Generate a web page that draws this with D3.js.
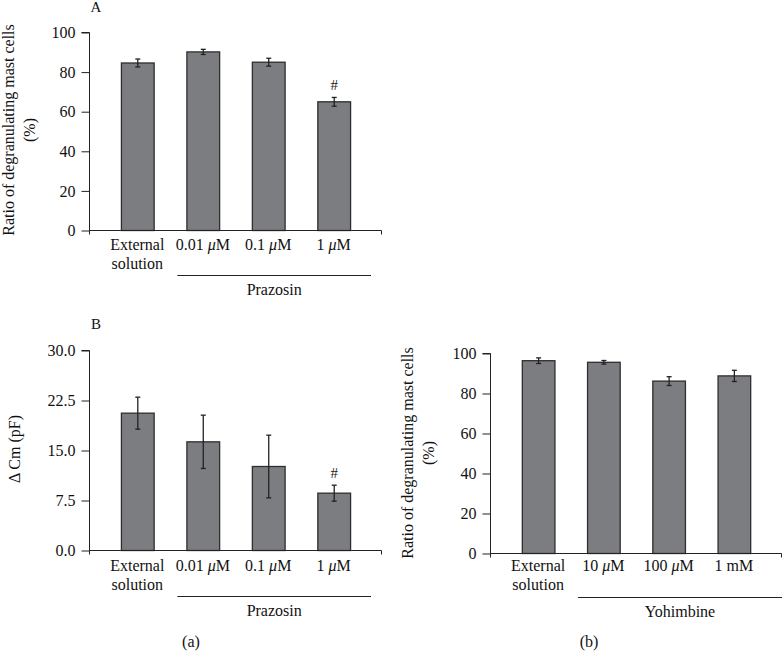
<!DOCTYPE html>
<html><head><meta charset="utf-8">
<script src="https://cdn.jsdelivr.net/npm/d3@7/dist/d3.min.js"></script>
<style>
html,body{margin:0;padding:0;background:#fff;}
svg{display:block;font-family:"Liberation Serif","DejaVu Serif",serif;}
</style></head>
<body>
<svg id="c" width="782" height="651"></svg>
<script>
// ---- data ----
const categoriesPrazosin = ["External|solution", "0.01 μM", "0.1 μM", "1 μM"];
const categoriesYohimbine = ["External|solution", "10 μM", "100 μM", "1 mM"];
const ratioPrazosin = [84.6, 90.2, 85.0, 65.0];
const ratioPrazosinErr = [2.0, 1.3, 2.0, 2.2];
const cmPrazosin = [20.6, 16.3, 12.6, 8.6];
const cmPrazosinErr = [2.4, 4.0, 4.7, 1.2];
const ratioYohimbine = [96.4, 95.6, 86.2, 88.8];
const ratioYohimbineErr = [1.4, 0.9, 2.2, 2.8];
const sigPrazosin = ["", "", "", "#"];
const sigYohimbine = ["", "", "", ""];
const ticksRatio = [0, 20, 40, 60, 80, 100];
const ticksCm = [0, 7.5, 15, 22.5, 30];

const svg = d3.select("#c");
const FS = 16;
const barFill = "#7c7d81", barStroke = "#2e2e2e", axisCol = "#222";

function addMu(sel, str) {
  const parts = str.split("μ");
  parts.forEach((p, i) => {
    if (i > 0) sel.append("tspan").attr("font-style", "italic").text("μ");
    if (p) sel.append("tspan").text(p);
  });
}

function panel(o) {
  const g = svg.append("g");
  const x = d3.scaleBand().domain(o.cats).range([o.ax0, o.ax1]).paddingInner(0.5).paddingOuter(0.48);
  const y = d3.scaleLinear().domain([0, o.ymax]).range([o.yb, o.yt]);

  // y axis
  const yAxis = d3.axisLeft(y).tickValues(o.ticks).tickFormat(o.fmt).tickSize(8).tickPadding(6);
  const ya = g.append("g").attr("transform", `translate(${o.ax0},0)`).call(yAxis);
  ya.select(".domain").attr("stroke", axisCol).attr("d", `M-8,${o.yt}H0V${o.yb + 4}`);
  ya.selectAll(".tick line").attr("stroke", axisCol);
  ya.selectAll(".tick text").attr("font-size", FS).attr("font-family", "Liberation Serif").attr("fill", "#111");

  // bars
  g.selectAll("rect.bar").data(o.vals).join("rect")
    .attr("x", (d, i) => x(o.cats[i]) + 0.5)
    .attr("y", d => y(d))
    .attr("width", x.bandwidth())
    .attr("height", d => y(0) - y(d))
    .attr("fill", barFill).attr("stroke", barStroke).attr("stroke-width", 1.3);

  // error bars
  o.vals.forEach((v, i) => {
    const cx = x(o.cats[i]) + x.bandwidth() / 2 + 0.5;
    const t = y(v + o.errs[i]), b = y(v - o.errs[i]);
    g.append("line").attr("x1", cx).attr("x2", cx).attr("y1", t).attr("y2", b).attr("stroke", "#222").attr("stroke-width", 1.3);
    [t, b].forEach(yy => g.append("line").attr("x1", cx - 2.5).attr("x2", cx + 2.5).attr("y1", yy).attr("y2", yy).attr("stroke", "#222").attr("stroke-width", 1.3));
    if (o.sig[i]) g.append("text").attr("x", cx).attr("y", t - 7).attr("text-anchor", "middle").attr("font-size", 15).attr("fill", "#222").text(o.sig[i]);
  });

  // x axis
  g.append("path").attr("d", `M${o.ax0},${o.yb}H${o.ax1}V${o.yb + 4}`).attr("fill", "none").attr("stroke", axisCol).attr("stroke-width", 1);

  // category labels
  o.cats.forEach(c => {
    const cx = x(c) + x.bandwidth() / 2;
    const lines = c.split("|");
    lines.forEach((ln, j) => {
      const t = g.append("text").attr("x", cx).attr("y", o.yb + o.lab0 + j * 19).attr("text-anchor", "middle").attr("font-size", FS).attr("fill", "#111");
      addMu(t, ln);
    });
  });

  // group line and label
  const gx0 = x(o.cats[1]) - 9;
  g.append("line").attr("x1", gx0).attr("x2", o.gx1).attr("y1", o.gly).attr("y2", o.gly).attr("stroke", "#222").attr("stroke-width", 1);
  g.append("text").attr("x", (gx0 + o.gx1) / 2).attr("y", o.gly + 19).attr("text-anchor", "middle").attr("font-size", FS).attr("fill", "#111").text(o.group);

  // y title
  o.title.forEach((ln, j) => {
    g.append("text").attr("transform", `translate(${o.tx + j * 21},${o.ty}) rotate(-90)`).attr("text-anchor", "middle").attr("font-size", FS).attr("fill", "#111").text(ln);
  });
}

panel({cats: categoriesPrazosin, vals: ratioPrazosin, errs: ratioPrazosinErr, sig: sigPrazosin,
  ax0: 89.5, ax1: 381.5, yb: 230.5, yt: 32.5, ymax: 100, ticks: ticksRatio, fmt: d3.format("d"),
  lab0: 19, gly: 275.5, gx1: 371, group: "Prazosin",
  title: ["Ratio of degranulating mast cells", "(%)"], tx: 14, ty: 130});

panel({cats: categoriesPrazosin, vals: cmPrazosin, errs: cmPrazosinErr, sig: sigPrazosin,
  ax0: 89.5, ax1: 381.5, yb: 550.5, yt: 350.5, ymax: 30, ticks: ticksCm, fmt: d3.format(".1f"),
  lab0: 20, gly: 596.5, gx1: 371, group: "Prazosin",
  title: ["Δ Cm (pF)"], tx: 20, ty: 449});

panel({cats: categoriesYohimbine, vals: ratioYohimbine, errs: ratioYohimbineErr, sig: sigYohimbine,
  ax0: 490.5, ax1: 781.5, yb: 553.5, yt: 353.5, ymax: 100, ticks: ticksRatio, fmt: d3.format("d"),
  lab0: 17, gly: 597.5, gx1: 782, group: "Yohimbine",
  title: ["Ratio of degranulating mast cells", "(%)"], tx: 413, ty: 453});

// panel letters
svg.append("text").attr("x", 96).attr("y", 12).attr("text-anchor", "middle").attr("font-size", 15).attr("fill", "#111").text("A");
svg.append("text").attr("x", 96).attr("y", 329).attr("text-anchor", "middle").attr("font-size", 15).attr("fill", "#111").text("B");
svg.append("text").attr("x", 191).attr("y", 647).attr("text-anchor", "middle").attr("font-size", FS).attr("fill", "#111").text("(a)");
svg.append("text").attr("x", 589).attr("y", 647).attr("text-anchor", "middle").attr("font-size", FS).attr("fill", "#111").text("(b)");
</script>
</body></html>
